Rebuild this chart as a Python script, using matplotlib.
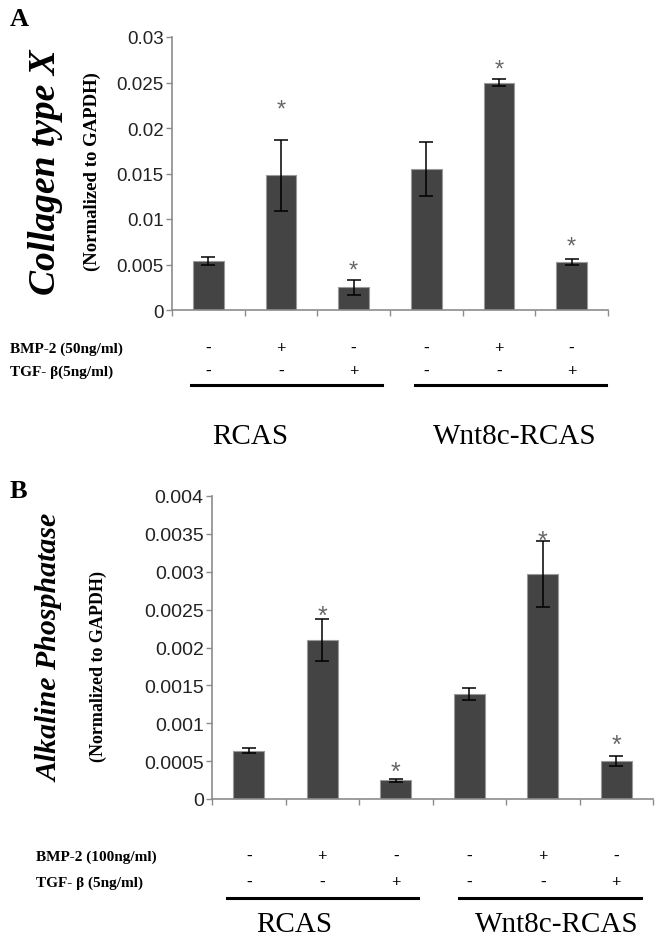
import matplotlib
matplotlib.use("Agg")
import matplotlib.pyplot as plt
from matplotlib.transforms import blended_transform_factory
from matplotlib.lines import Line2D

# ---------------- data ----------------
conditions = ["RCAS ctrl", "RCAS BMP-2", "RCAS TGF-b", "Wnt8c ctrl", "Wnt8c BMP-2", "Wnt8c TGF-b"]
bmp_signs = ["-", "+", "-", "-", "+", "-"]
tgf_signs = ["-", "-", "+", "-", "-", "+"]
groups = ["RCAS", "Wnt8c-RCAS"]

colX_mean = [0.0054, 0.0148, 0.0025, 0.0155, 0.0250, 0.0053]
colX_err = [0.0004, 0.0039, 0.0008, 0.0030, 0.0004, 0.0003]
colX_star = [None, 0.0220, 0.0043, None, 0.0264, 0.0070]
colX_ticks = [0, 0.005, 0.01, 0.015, 0.02, 0.025, 0.03]
colX_ticklabels = ["0", "0.005", "0.01", "0.015", "0.02", "0.025", "0.03"]

alp_mean = [0.00064, 0.00210, 0.00025, 0.00139, 0.00297, 0.00050]
alp_err = [0.00003, 0.00028, 0.00002, 0.00008, 0.00043, 0.00007]
alp_star = [None, 0.00242, 0.00036, None, 0.00341, 0.00072]
alp_ticks = [0, 0.0005, 0.001, 0.0015, 0.002, 0.0025, 0.003, 0.0035, 0.004]
alp_ticklabels = ["0", "0.0005", "0.001", "0.0015", "0.002", "0.0025", "0.003", "0.0035", "0.004"]

W, H = 664, 945
fig = plt.figure(figsize=(W / 100, H / 100), dpi=100)


def fx(px):
    return px / W


def fy(py):
    return 1 - py / H


SERIF = "Liberation Serif"
SANS = "Liberation Sans"
BAR = "#444444"
GRAY = "#8c8c8c"


def panel(rect, means, errs, stars, ticks, ticklabels, ymax, tick_fs,
          star_fs, letter, letter_xy, title, title_x, title_fs, title_y,
          norm_x, norm_y, norm_fs, bmp_label, bmp_y, tgf_label, tgf_y, line_y,
          lines, group_y, group_x):
    ax = fig.add_axes(rect)
    x = list(range(len(means)))
    ax.bar(x, means, width=0.42, color=BAR, edgecolor="#9a9a9a", linewidth=0.8,
           zorder=2)
    ax.errorbar(x, means, yerr=errs, fmt="none", ecolor="black", elinewidth=1.1,
                capsize=5, capthick=1.1, zorder=3)
    for xi, s in zip(x, stars):
        if s is not None:
            ax.text(xi, s, "*", ha="center", va="center", fontsize=star_fs,
                    color="#666666", family=SANS)
    ax.set_xlim(-0.5, len(means) - 0.5)
    ax.set_ylim(0, ymax)
    ax.set_yticks(ticks)
    ax.set_yticklabels(ticklabels, family=SANS, fontsize=tick_fs, color="#222222")
    ax.set_xticks([i - 0.5 for i in range(len(means) + 1)])
    ax.set_xticklabels([])
    ax.tick_params(axis="both", direction="out", length=4, width=1, color=GRAY,
                   pad=2)
    for sp in ["top", "right"]:
        ax.spines[sp].set_visible(False)
    for sp in ["left", "bottom"]:
        ax.spines[sp].set_color(GRAY)
        ax.spines[sp].set_linewidth(1.2)

    # panel letter and axis labels
    fig.text(fx(letter_xy[0]), fy(letter_xy[1]), letter, family=SERIF,
             weight="bold", fontsize=19, ha="left", va="center")
    fig.text(fx(title_x), fy(title_y), title, family=SERIF, weight="bold",
             style="italic", fontsize=title_fs, rotation=90, ha="center",
             va="center")
    fig.text(fx(norm_x), fy(norm_y), "(Normalized to GAPDH)", family=SERIF,
             weight="bold", fontsize=norm_fs, rotation=90, ha="center", va="center")

    # condition table
    tr = blended_transform_factory(ax.transData, fig.transFigure)
    fig.text(fx(bmp_label[0]), fy(bmp_y), bmp_label[1], family=SERIF,
             weight="bold", fontsize=11, ha="left", va="center")
    fig.text(fx(tgf_label[0]), fy(tgf_y), tgf_label[1], family=SERIF,
             weight="bold", fontsize=11, ha="left", va="center")
    for xi, b, t in zip(x, bmp_signs, tgf_signs):
        fig.text(xi, fy(bmp_y), b, transform=tr, family=SERIF, weight="bold",
                 fontsize=12, ha="center", va="center")
        fig.text(xi, fy(tgf_y), t, transform=tr, family=SERIF, weight="bold",
                 fontsize=12, ha="center", va="center")
    for (x0, x1) in lines:
        fig.add_artist(Line2D([x0, x1], [fy(line_y), fy(line_y)], transform=tr,
                              color="black", linewidth=2.2))
    for g, gx in zip(groups, group_x):
        fig.text(gx, fy(group_y), g, transform=tr, family=SERIF, fontsize=21,
                 ha="center", va="center")
    return ax


panel([fx(172), fy(311), fx(608) - fx(172), (311 - 38) / H],
      colX_mean, colX_err, colX_star, colX_ticks, colX_ticklabels, 0.03,
      13.5, 17, "A", (10, 20), "Collagen type X", 46, 27, 172, 92, 172, 13.5,
      (10, "BMP-2 (50ng/ml)"), 349, (10, "TGF- \u03b2(5ng/ml)"), 372, 386,
      [(-0.24, 2.39), (2.84, 5.47)], 437, [0.57, 4.22])

panel([fx(212), fy(800), fx(653) - fx(212), (800 - 497) / H],
      alp_mean, alp_err, alp_star, alp_ticks, alp_ticklabels, 0.004,
      14, 18, "B", (10, 492), "Alkaline Phosphatase", 50, 21.5, 648, 98, 667,
      13,
      (36, "BMP-2 (100ng/ml)"), 857, (36, "TGF- \u03b2 (5ng/ml)"), 883, 899,
      [(-0.3, 2.3), (2.86, 5.34)], 925, [0.62, 4.19])

fig.savefig("out.png", dpi=100, facecolor="white")
